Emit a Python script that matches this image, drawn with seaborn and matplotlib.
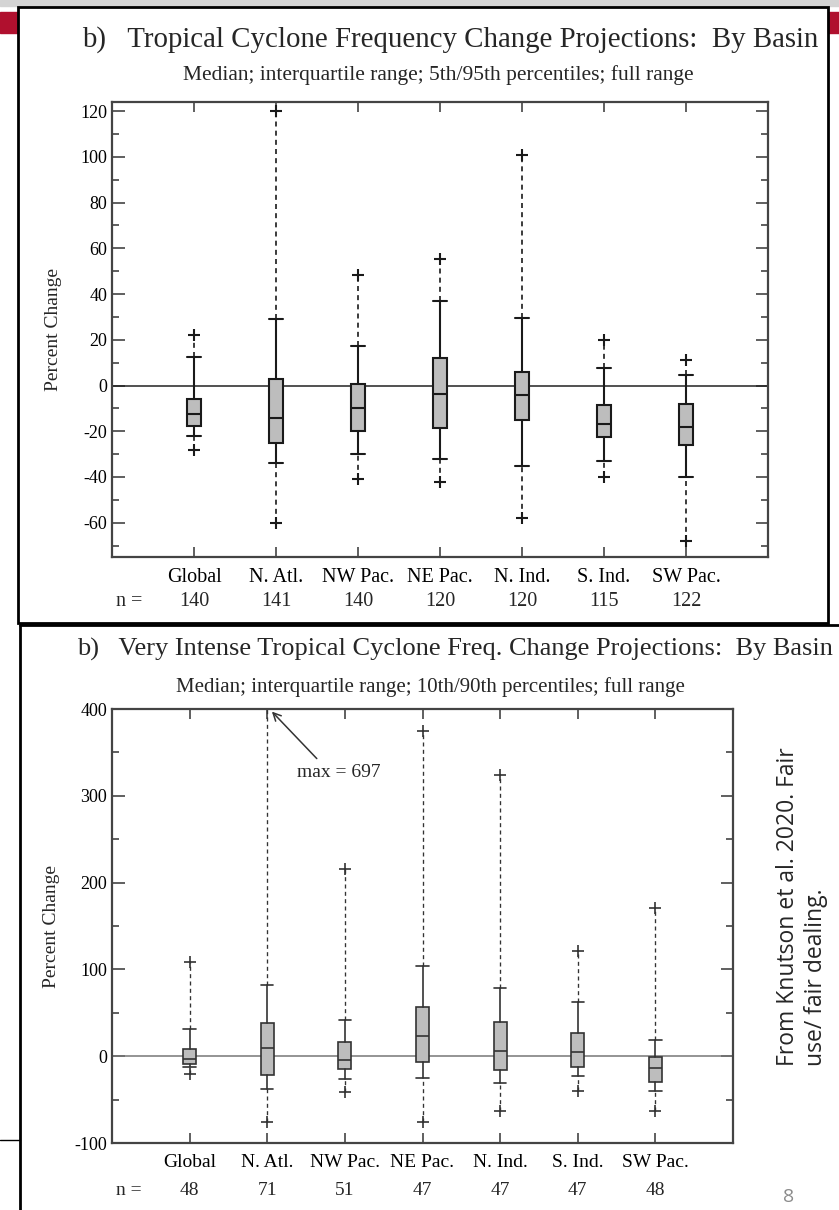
"""
Tropical cyclone frequency change projections by basin (two panels),
redrawn from the summary statistics read off the slide.
"""
import numpy as np
import pandas as pd
import matplotlib
matplotlib.use("Agg")
import matplotlib.pyplot as plt
from matplotlib.ticker import MultipleLocator
from matplotlib.patches import Rectangle
from matplotlib.lines import Line2D
import seaborn as sns

sns.set_style("ticks")
plt.rcParams["font.family"] = ["Liberation Serif", "DejaVu Serif"]
plt.rcParams["axes.unicode_minus"] = False

# basins and sample sizes
basins = ["Global", "N. Atl.", "NW Pac.", "NE Pac.", "N. Ind.", "S. Ind.", "SW Pac."]

# panel 1: all tropical cyclones (5th/95th percentiles)
freq_n = [140, 141, 140, 120, 120, 115, 122]
freq_min = [-28, -60, -41, -42, -58, -40, -68]
freq_lo = [-22, -34, -30, -32, -35, -33, -40]
freq_q1 = [-17.5, -25, -20, -18.5, -15, -22.5, -26]
freq_med = [-12.5, -14, -10, -3.5, -4, -17, -18]
freq_q3 = [-6, 3, 0.5, 12, 6, -8.5, -8]
freq_hi = [12.5, 29, 17.5, 37, 29.5, 7.5, 4.5]
freq_max = [22, 120, 48.5, 55.5, 101, 20, 11]

# panel 2: very intense tropical cyclones (10th/90th percentiles)
vi_n = [48, 71, 51, 47, 47, 47, 48]
vi_min = [-20, -76, -41, -76, -63, -40, -63]
vi_lo = [-13, -38, -26, -25, -31, -23, -40]
vi_q1 = [-9, -22, -15, -7, -16, -13, -30]
vi_med = [-3, 10, -4, 23, 6, 5, -14]
vi_q3 = [8, 38, 16.5, 57, 39, 27, -1]
vi_hi = [31, 82, 42, 104, 79, 63, 19]
vi_max = [108, 697, 216, 375, 324, 121, 171]


def draw_panel(ax, n, vmin, lo, q1, med, q3, hi, vmax, lw, lcol, zcol, fs, ny, lpad):
    pos = np.arange(len(basins))
    stats = []
    for i in range(len(basins)):
        stats.append(dict(label=basins[i], med=med[i], q1=q1[i], q3=q3[i],
                          whislo=lo[i], whishi=hi[i], fliers=[]))
    ax.axhline(0, color=zcol, lw=1.1, zorder=1)
    # dashed tails out to the full range
    ax.vlines(pos, hi, vmax, colors=lcol, linestyles=(0, (3, 2.5)), lw=lw * 0.8, zorder=2)
    ax.vlines(pos, vmin, lo, colors=lcol, linestyles=(0, (3, 2.5)), lw=lw * 0.8, zorder=2)
    ax.bxp(stats, positions=pos, widths=0.17, capwidths=0.16, patch_artist=True,
           showfliers=False, manage_ticks=False,
           boxprops=dict(facecolor="#bdbdbd", edgecolor=lcol, lw=lw),
           whiskerprops=dict(color=lcol, lw=lw),
           capprops=dict(color=lcol, lw=lw),
           medianprops=dict(color=lcol, lw=lw))
    ends = pd.DataFrame({"basin": basins * 2, "value": list(vmin) + list(vmax)})
    sns.scatterplot(data=ends, x="basin", y="value", marker="+", s=70,
                    color=lcol, linewidth=lw, ax=ax, zorder=4, clip_on=True)
    ax.set_xlim(-1, 7)
    ax.set_xticks(pos)
    ax.set_xticklabels(basins, fontsize=fs)
    ax.set_xlabel("")
    ax.set_ylabel("Percent Change", fontsize=14, labelpad=lpad)
    ax.tick_params(axis="both", which="both", direction="in", top=True, right=True,
                   colors="#444444", labelcolor="black")
    ax.tick_params(axis="y", which="major", length=9, width=1.2, labelsize=13)
    ax.tick_params(axis="y", which="minor", length=5, width=1.2)
    ax.tick_params(axis="x", which="major", length=7, width=1.2, pad=8)
    for sp in ax.spines.values():
        sp.set_linewidth(1.6)
        sp.set_color("#444444")
    ax.text(-0.95, ny, "n =", transform=ax.get_xaxis_transform(),
            ha="left", va="center", fontsize=fs)
    for i, v in enumerate(n):
        ax.text(i, ny, str(v), transform=ax.get_xaxis_transform(),
                ha="center", va="center", fontsize=fs)


fig = plt.figure(figsize=(8.39, 12.1), dpi=100)
W, H = 839.0, 1210.0

# slide decorations
fig.patches.append(Rectangle((0, 1 - 6 / H), 1, 6 / H, transform=fig.transFigure,
                             color="#d4d4d4", zorder=0))
fig.patches.append(Rectangle((0, 1 - 33 / H), 18 / W, 21 / H, transform=fig.transFigure,
                             color="#b0102e", zorder=0))
fig.patches.append(Rectangle((828 / W, 1 - 33 / H), 11 / W, 21 / H, transform=fig.transFigure,
                             color="#b0102e", zorder=0))
fig.patches.append(Rectangle((18 / W, 1 - 623 / H), 810 / W, 616 / H, transform=fig.transFigure,
                             facecolor="none", edgecolor="black", lw=2, zorder=1))
fig.lines.append(Line2D([20 / W, 20 / W], [0, 1 - 625 / H], transform=fig.transFigure,
                        color="black", lw=2))
fig.lines.append(Line2D([20 / W, 1], [1 - 625 / H, 1 - 625 / H], transform=fig.transFigure,
                        color="black", lw=2))
fig.lines.append(Line2D([0, 20 / W], [1 - 1140 / H, 1 - 1140 / H], transform=fig.transFigure,
                        color="black", lw=1))

# panel 1
ax1 = fig.add_axes([112 / W, 1 - 557 / H, 656 / W, 455 / H])
draw_panel(ax1, freq_n, freq_min, freq_lo, freq_q1, freq_med, freq_q3, freq_hi, freq_max,
           lw=1.5, lcol="#1a1a1a", zcol="#222222", fs=14.5, ny=-0.097, lpad=13)
ax1.set_ylim(-75, 124)
ax1.yaxis.set_major_locator(MultipleLocator(20))
ax1.yaxis.set_minor_locator(MultipleLocator(10))
fig.text(450 / W, 1 - 40 / H,
         "b)   Tropical Cyclone Frequency Change Projections:  By Basin",
         ha="center", va="center", fontsize=20.8)
fig.text(438 / W, 1 - 75 / H,
         "Median; interquartile range; 5th/95th percentiles; full range",
         ha="center", va="center", fontsize=15.5)

# panel 2
ax2 = fig.add_axes([112 / W, 1 - 1143 / H, 621 / W, 434 / H])
draw_panel(ax2, vi_n, vi_min, vi_lo, vi_q1, vi_med, vi_q3, vi_hi, vi_max,
           lw=1.2, lcol="#333333", zcol="#777777", fs=14, ny=-0.11, lpad=10)
ax2.set_ylim(-100, 400)
ax2.yaxis.set_major_locator(MultipleLocator(100))
ax2.yaxis.set_minor_locator(MultipleLocator(50))
ax2.annotate("max = 697", xy=(1.06, 397), xytext=(1.38, 327), fontsize=14,
             ha="left", va="center",
             arrowprops=dict(arrowstyle="->", color="#333333", lw=1.1,
                             relpos=(0.3, 1.0), shrinkB=0))
fig.text(455 / W, 1 - 649 / H,
         "b)   Very Intense Tropical Cyclone Freq. Change Projections:  By Basin",
         ha="center", va="center", fontsize=19)
fig.text(430 / W, 1 - 687 / H,
         "Median; interquartile range; 10th/90th percentiles; full range",
         ha="center", va="center", fontsize=15)

# side note and page number
fig.text(802 / W, 1 - 1066 / H, "From Knutson et al. 2020. Fair\nuse/ fair dealing.",
         rotation=90, ha="center", va="bottom", multialignment="left",
         fontsize=16.5, family=["Open Sans", "DejaVu Sans"], linespacing=1.2)
fig.text(789 / W, 1 - 1197 / H, "8", ha="center", va="center", fontsize=14,
         color="#8c8c8c", family=["Open Sans", "DejaVu Sans"])

fig.savefig("out.png", dpi=100)
